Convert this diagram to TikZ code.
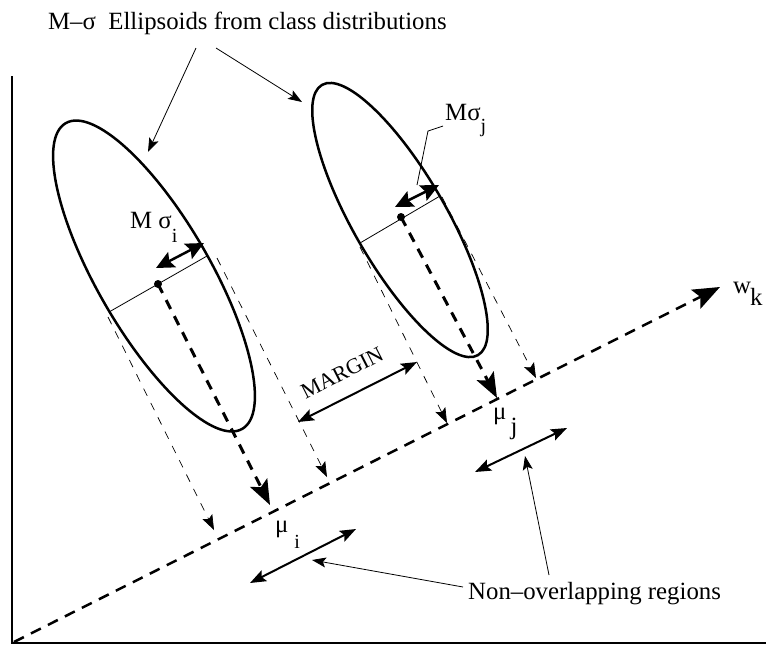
\documentclass[tikz,border=0pt]{standalone}
\usepackage{fontspec}
\setmainfont{Liberation Serif}
\usetikzlibrary{arrows.meta}
\begin{document}
\begin{tikzpicture}[x=1pt,y=-1pt,
  lab/.style={font=\fontsize{24.8}{28}\selectfont, inner sep=0pt},
  smalllab/.style={font=\fontsize{22}{26}\selectfont, inner sep=0pt},
  axisline/.style={line width=2pt},
  ell/.style={line width=2.5pt},
  chord/.style={line width=0.8pt},
  thinproj/.style={line width=0.7pt, dash pattern=on 8pt off 8pt, -{Stealth[length=15pt,width=11pt,inset=3pt]}},
  thickproj/.style={line width=3pt, dash pattern=on 10pt off 8pt, -{Stealth[length=25pt,width=19pt,inset=5pt]}},
  waxis/.style={line width=2.5pt, dash pattern=on 11pt off 8pt, -{Stealth[length=27pt,width=21pt,inset=5pt]}},
  pointer/.style={line width=0.8pt, -{Stealth[length=14pt,width=10pt,inset=3pt]}},
  spanarrow/.style={line width=2pt, {Stealth[length=16pt,width=12pt,inset=3pt]}-{Stealth[length=16pt,width=12pt,inset=3pt]}},
  sigarrow/.style={line width=2.5pt, {Stealth[length=18pt,width=17pt,inset=3pt]}-{Stealth[length=18pt,width=17pt,inset=3pt]}},
  leader/.style={line width=0.8pt},
]
\useasboundingbox (0,0) rectangle (766,646);

% axes
\coordinate (ytop) at (12,76);
\coordinate (orig) at (12,643);
\coordinate (xend) at (766,643);
\draw[axisline] (ytop) -- (orig) -- (xend);

% w_k axis
\coordinate (wstart) at (14,642);
\coordinate (wtip) at (720,287);
\draw[waxis] (wstart) -- (wtip);
\node[lab, anchor=base west] (wk) at (733,293) {w\kern-1pt\raisebox{-12pt}{k}};

% ellipses
\coordinate (e1) at (154,276);
\coordinate (e2) at (400,220);
\draw[ell, rotate around={-60:(e1)}] (e1) ellipse [x radius=176.5pt, y radius=56.5pt];
\draw[ell, rotate around={-60:(e2)}] (e2) ellipse [x radius=156pt, y radius=46.4pt];

% centres and chords
\coordinate (c1) at (158,284);
\coordinate (c2) at (401,217);
\coordinate (m1a) at (109,312);
\coordinate (m1b) at (207,256);
\coordinate (m2a) at (360,243);
\coordinate (m2b) at (440,196);
\draw[chord] (m1a) -- (m1b);
\draw[chord] (m2a) -- (m2b);
\fill (c1) circle [radius=4pt];
\fill (c2) circle [radius=4pt];

% thick projections of the means
\coordinate (mu1) at (270,505);
\coordinate (mu2) at (497,398);
\draw[thickproj] (c1) -- (mu1);
\draw[thickproj] (c2) -- (mu2);

% thin projections of the extents
\coordinate (t1a) at (108,317);
\coordinate (t1ae) at (214,530);
\coordinate (t1b) at (217,258);
\coordinate (t1be) at (327,477);
\coordinate (t2a) at (360,247);
\coordinate (t2ae) at (447,423);
\coordinate (t2b) at (442,197);
\coordinate (t2be) at (536,378);
\draw[thinproj] (t1a) -- (t1ae);
\draw[thinproj] (t1b) -- (t1be);
\draw[thinproj] (t2a) -- (t2ae);
\draw[thinproj] (t2b) -- (t2be);

% M sigma arrows
\coordinate (s1a) at (156,268);
\coordinate (s1b) at (204,243);
\coordinate (s2a) at (395,207);
\coordinate (s2b) at (439,185);
\draw[sigarrow] (s1a) -- (s1b);
\draw[sigarrow] (s2a) -- (s2b);
\node[lab, anchor=base west] (msigi) at (130,228) {M σ\raisebox{-14pt}{\fontsize{20}{24}\selectfont i}};
\node[lab, anchor=base west] (msigj) at (445,120) {Mσ\raisebox{-12pt}{\fontsize{20}{24}\selectfont j}};
\coordinate (l1) at (443,126);
\coordinate (l2) at (428,131);
\coordinate (l3) at (417,185);
\draw[leader] (l1) -- (l2) -- (l3);

% margin
\coordinate (ma) at (298,422);
\coordinate (mb) at (417,362);
\draw[spanarrow] (ma) -- (mb);
\node[smalllab, rotate=27] (margin) at (342,373) {MARGIN};

% mean labels
\node[lab, anchor=base west] (mui) at (275,532) {μ\hspace{6pt}\raisebox{-16pt}{\fontsize{20}{24}\selectfont i}};
\node[lab, anchor=base west] (muj) at (493,419) {μ\hspace{4pt}\raisebox{-15pt}{j}};

% non-overlapping regions
\coordinate (r1a) at (250,583);
\coordinate (r1b) at (356,529);
\coordinate (r2a) at (475,472);
\coordinate (r2b) at (567,428);
\draw[spanarrow] (r1a) -- (r1b);
\draw[spanarrow] (r2a) -- (r2b);
\node[lab, anchor=base west] (nonov) at (468,599) {Non–overlapping regions};
\coordinate (n1s) at (463,587);
\coordinate (n1e) at (312,560);
\coordinate (n2s) at (549,575);
\coordinate (n2e) at (525,456);
\draw[pointer] (n1s) -- (n1e);
\draw[pointer] (n2s) -- (n2e);

% title and its pointers
\node[lab, anchor=base west] (title) at (48,29) {M–σ\ \ Ellipsoids from class distributions};
\coordinate (p1s) at (196,48);
\coordinate (p1e) at (148,152);
\coordinate (p2s) at (216,48);
\coordinate (p2e) at (302,102);
\draw[pointer] (p1s) -- (p1e);
\draw[pointer] (p2s) -- (p2e);
\end{tikzpicture}
\end{document}
